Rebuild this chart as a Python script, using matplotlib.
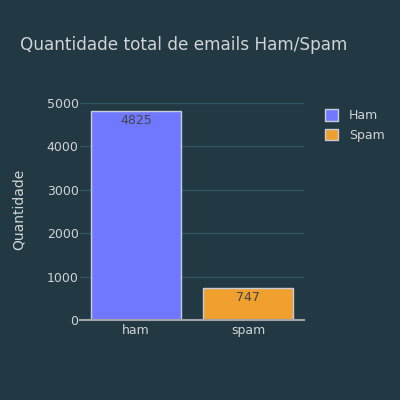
import matplotlib.pyplot as plt
from matplotlib.patches import Patch

categorias = ['ham', 'spam']
quantidades = [4825, 747]
nomes_legenda = ['Ham', 'Spam']
cores = ['#7078ff', '#f0a02f']

bg = '#223843'
txt = '#d0d4d6'

fig = plt.figure(figsize=(4, 4), dpi=100, facecolor=bg)
ax = fig.add_axes([0.2, 0.2, 0.56, 0.551])
ax.set_facecolor(bg)

x = range(len(categorias))
bars = ax.bar(x, quantidades, width=0.8, color=cores, edgecolor='#c8cbd8', linewidth=1, zorder=3)
for b, v in zip(bars, quantidades):
    ax.text(b.get_x() + b.get_width() / 2, v - 80, str(v), ha='center', va='top',
            color='#444444', fontsize=9, zorder=4)

ax.set_xlim(-0.5, 1.5)
ax.set_ylim(0, 5079)
ax.set_xticks(list(x))
ax.set_xticklabels(categorias)
ax.set_yticks([0, 1000, 2000, 3000, 4000, 5000])
ax.tick_params(colors=txt, labelsize=9, length=0)
ax.tick_params(axis='y', pad=1)
ax.tick_params(axis='x', pad=3)
ax.grid(axis='y', color='#2f5563', linewidth=1, zorder=0)
for s in ['top', 'right', 'left']:
    ax.spines[s].set_visible(False)
ax.spines['bottom'].set_color('#a0a4a8')
ax.spines['bottom'].set_linewidth(1.5)
ax.spines['bottom'].set_zorder(5)

ax.set_ylabel('Quantidade', color=txt, fontsize=10, labelpad=15)

fig.text(0.05, 0.887, 'Quantidade total de emails Ham/Spam', color=txt, fontsize=12.2, va='center')

handles = [Patch(facecolor=c, edgecolor='#c8cbd8', label=n) for c, n in zip(cores, nomes_legenda)]
leg = fig.legend(handles=handles, loc='upper left', bbox_to_anchor=(0.785, 0.755), frameon=False,
                 fontsize=9, labelcolor=txt, handlelength=1.0, handleheight=1.0, handletextpad=0.9,
                 labelspacing=0.55)

fig.savefig('out.png', facecolor=bg)
